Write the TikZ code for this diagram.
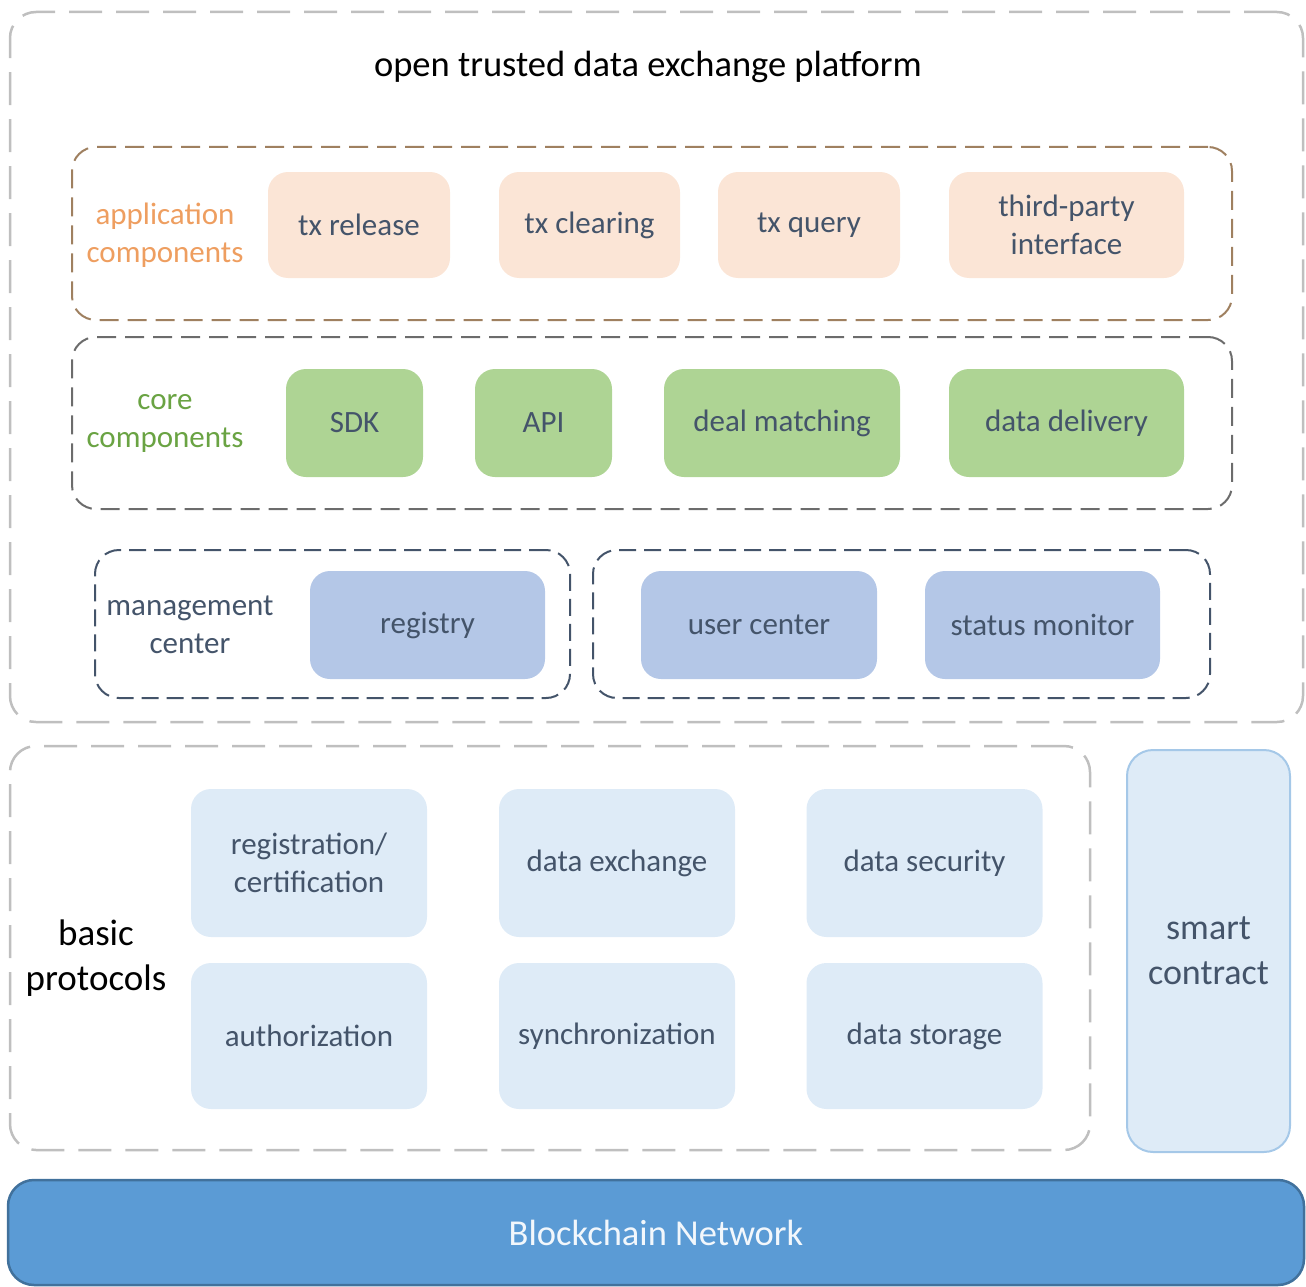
\documentclass[tikz,border=0pt]{standalone}
\usepackage{fontspec}
\setmainfont{Carlito}
\usetikzlibrary{positioning}
\definecolor{textgray}{HTML}{44546A}
\definecolor{orangefill}{HTML}{FBE5D6}
\definecolor{orangetext}{HTML}{EE9E60}
\definecolor{greenfill}{HTML}{AED494}
\definecolor{greentext}{HTML}{6AA343}
\definecolor{bluefill}{HTML}{B4C7E7}
\definecolor{lightblue}{HTML}{DEEBF7}
\definecolor{chainblue}{HTML}{5B9BD5}
\definecolor{chainborder}{HTML}{41719C}
\tikzset{
	layer/.style={font=\fontsize{31}{38}\selectfont,text=textgray,align=center,
		inner sep=0pt,rounded corners=20pt},
	appbox/.style={layer,fill=orangefill,minimum height=106pt},
	corebox/.style={layer,fill=greenfill,minimum height=108pt},
	mgmtbox/.style={layer,fill=bluefill,minimum height=108pt},
	protobox/.style={layer,fill=lightblue,minimum width=236pt},
	outergroup/.style={draw=gray!50,line width=2.5pt,dash pattern=on 33pt off 14pt,
		rounded corners=26pt,inner sep=0pt},
	innergroup/.style={line width=2pt,dash pattern=on 19pt off 9pt,
		rounded corners=24pt,inner sep=0pt},
	grouplabel/.style={font=\fontsize{31}{38}\selectfont,align=center},
	biglabel/.style={font=\fontsize{37}{45}\selectfont,align=center}
}

\begin{document}
\begin{tikzpicture}[x=1pt,y=-1pt]
	\useasboundingbox (0,0) rectangle (1306,1287);
	
	% platform
	\node[outergroup,minimum width=1293pt,minimum height=710pt] (platform) at (656.5,367) {};
	\node[font=\fontsize{36.5}{44}\selectfont] (title) at (648,67) {open trusted data exchange platform};
	
	% application components
	\node[innergroup,draw=brown!50!gray,minimum width=1160pt,minimum height=173pt] (appgroup) at (652,233.5) {};
	\node[grouplabel,text=orangetext] (applabel) at (165,235) {application\\components};
	\node[appbox,minimum width=182pt] (release) at (359,225) {tx release};
	\node[appbox,minimum width=181pt] (clearing) at (589.5,225) {tx clearing};
	\node[appbox,minimum width=182pt] (query) at (809,225) {tx query};
	\node[appbox,minimum width=235pt] (thirdparty) at (1066.5,225) {third-party\\interface};
	
	% core components
	\node[innergroup,draw=gray!85!black,minimum width=1160pt,minimum height=172pt] (coregroup) at (652,423) {};
	\node[grouplabel,text=greentext] (corelabel) at (165,423) {core\\components};
	\node[corebox,minimum width=137pt] (sdk) at (354.5,423) {SDK};
	\node[corebox,minimum width=137pt] (api) at (543.5,423) {API};
	\node[corebox,minimum width=236pt] (matching) at (782,423) {deal matching};
	\node[corebox,minimum width=235pt] (delivery) at (1066.5,423) {data delivery};
	
	% management center
	\node[innergroup,draw=textgray,dash pattern=on 17pt off 8pt,minimum width=475pt,minimum height=148pt] (mgmtgroup) at (332.5,624) {};
	\node[innergroup,draw=textgray,dash pattern=on 17pt off 8pt,minimum width=617pt,minimum height=148pt] (usergroup) at (901.5,624) {};
	\node[grouplabel,text=textgray] (mgmtlabel) at (190,625) {management\\center};
	\node[mgmtbox,minimum width=235pt] (registry) at (427.5,625) {registry};
	\node[mgmtbox,minimum width=236pt] (usercenter) at (759,625) {user center};
	\node[mgmtbox,minimum width=235pt] (monitor) at (1042.5,625) {status monitor};
	
	% basic protocols
	\node[outergroup,minimum width=1080pt,minimum height=404pt] (protogroup) at (550,948) {};
	\node[biglabel] (protolabel) at (96,958) {basic\\protocols};
	\node[protobox,minimum height=148pt] (registration) at (309,863) {registration/\\certification};
	\node[protobox,minimum height=148pt] (exchange) at (617,863) {data exchange};
	\node[protobox,minimum height=148pt] (security) at (924.5,863) {data security};
	\node[protobox,minimum height=146pt] (authorization) at (309,1036) {authorization};
	\node[protobox,minimum height=146pt] (sync) at (617,1036) {synchronization};
	\node[protobox,minimum height=146pt] (storage) at (924.5,1036) {data storage};
	
	% smart contract and network
	\node[layer,font=\fontsize{36}{45}\selectfont,fill=lightblue,draw=chainblue!55,line width=2pt,
		rounded corners=26pt,minimum width=163pt,minimum height=402pt] (contract) at (1208.5,951) {smart\\contract};
	\node[layer,font=\fontsize{36.5}{44}\selectfont,fill=chainblue,draw=chainborder,line width=2.5pt,
		text=white!92!chainblue,rounded corners=26pt,minimum width=1296pt,minimum height=105pt] (network) at (656,1232.5) {Blockchain Network};
	
\end{tikzpicture}
\end{document}
